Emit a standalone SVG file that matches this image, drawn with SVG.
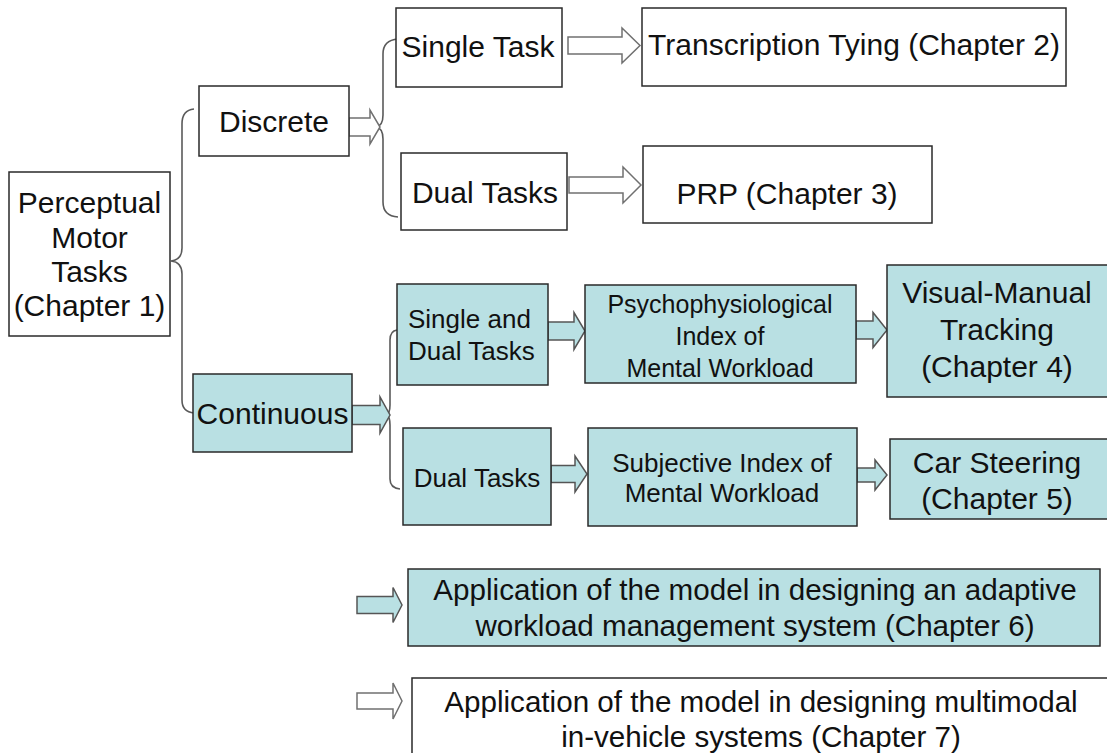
<svg xmlns="http://www.w3.org/2000/svg" width="1107" height="753" viewBox="0 0 1107 753">
<style>
.box{fill:#ffffff;stroke:#2a2a2a;stroke-width:1.5}
.cyan{fill:#b9e0e3;stroke:#2a2a2a;stroke-width:1.5}
.t{font-family:"Liberation Sans",Arial,sans-serif;fill:#111;text-anchor:middle}
.l{text-anchor:start}
.f29{font-size:30px}
.f26{font-size:26px}
.f25{font-size:25px}
.f28{font-size:29.6px}
.arw{fill:#ffffff;stroke:#707070;stroke-width:1.5;stroke-linejoin:miter}
.arc{fill:#b9e0e3;stroke:#555555;stroke-width:1.5;stroke-linejoin:miter}
.brace{fill:none;stroke:#5a5a5a;stroke-width:1.6}
</style>
<rect width="1107" height="753" fill="#ffffff"/>
<g id="connectors">
<path class="brace" d="M194,109 Q182,110 182,124 L182,248 Q182,260 171,261 Q182,262 182,274 L182,400 Q182,412 194,413"/>
<path class="brace" d="M398,39 Q383,40 383,54 L383,115 Q383,126 376,127 Q383,128 383,139 L383,202 Q383,216 398,217"/>
<path class="brace" d="M397,330 Q390,331 390,340 L390,405 Q390,414 386,415 Q390,416 390,425 L390,479 Q390,488 400,489"/>
<polygon class="arw" points="349,118 370,118 370,110 380,127 370,144 370,136 349,136"/>
<polygon class="arw" points="568,37 622,37 622,28 640,45.5 622,63 622,54 568,54"/>
<polygon class="arw" points="569,177 623,177 623,167 641,185 623,203 623,193 569,193"/>
<polygon class="arc" points="352,405.5 380,405.5 380,397 390,415 380,433 380,424.5 352,424.5"/>
<polygon class="arc" points="548,322 574,322 574,312.5 585,331 574,349.5 574,340 548,340"/>
<polygon class="arc" points="856,321 873,321 873,312.5 887,330 873,347.5 873,339 856,339"/>
<polygon class="arc" points="551,465.5 575,465.5 575,456 587,474 575,492 575,482.5 551,482.5"/>
<polygon class="arc" points="857,468 875,468 875,460 887,475 875,490 875,482 857,482"/>
<polygon class="arc" points="357,596.5 393,596.5 393,587.5 402,605 393,622.5 393,613.5 357,613.5"/>
<polygon class="arw" points="357,693 393,693 393,683 402,701 393,719 393,709 357,709"/>
</g>
<g id="perceptual">
<rect class="box" x="9" y="172" width="161" height="164"/>
<text class="t f29" x="89.5" y="213">Perceptual</text>
<text class="t f29" x="89.5" y="247.5">Motor</text>
<text class="t f29" x="89.5" y="282">Tasks</text>
<text class="t f29" x="89.5" y="316">(Chapter 1)</text>
</g>
<g id="discrete">
<rect class="box" x="199" y="86" width="150" height="70"/>
<text class="t f29" x="274" y="132">Discrete</text>
</g>
<g id="continuous">
<rect class="cyan" x="193" y="374" width="159" height="78"/>
<text class="t f29" x="272.5" y="424">Continuous</text>
</g>
<g id="single-task">
<rect class="box" x="396" y="8" width="166" height="79"/>
<text class="t f29" x="478" y="57">Single Task</text>
</g>
<g id="dual-tasks-discrete">
<rect class="box" x="401" y="153" width="166" height="77"/>
<text class="t f29" x="485" y="203">Dual Tasks</text>
</g>
<g id="transcription">
<rect class="box" x="642" y="8" width="424" height="78"/>
<text class="t f29" x="854" y="55">Transcription Tying (Chapter 2)</text>
</g>
<g id="prp">
<rect class="box" x="643" y="146" width="289" height="77"/>
<text class="t f29" x="787" y="204">PRP (Chapter 3)</text>
</g>
<g id="single-and-dual">
<rect class="cyan" x="397" y="284" width="151" height="101"/>
<text class="t l f26" x="408" y="328">Single and</text>
<text class="t l f26" x="408" y="360">Dual Tasks</text>
</g>
<g id="dual-tasks-continuous">
<rect class="cyan" x="403" y="428" width="148" height="97"/>
<text class="t f26" x="477" y="487">Dual Tasks</text>
</g>
<g id="psychophysiological">
<rect class="cyan" x="585" y="285" width="271" height="98"/>
<text class="t f25" x="720" y="313">Psychophysiological</text>
<text class="t f25" x="720" y="345">Index of</text>
<text class="t f25" x="720" y="377">Mental Workload</text>
</g>
<g id="subjective">
<rect class="cyan" x="588" y="428" width="269" height="98"/>
<text class="t f26" x="722" y="472">Subjective Index of</text>
<text class="t f26" x="722" y="502">Mental Workload</text>
</g>
<g id="visual-manual">
<rect class="cyan" x="887" y="265" width="222" height="132"/>
<text class="t f29" x="997" y="303">Visual-Manual</text>
<text class="t f29" x="997" y="340">Tracking</text>
<text class="t f29" x="997" y="377">(Chapter 4)</text>
</g>
<g id="car-steering">
<rect class="cyan" x="890" y="439" width="219" height="80"/>
<text class="t f29" x="997" y="473">Car Steering</text>
<text class="t f29" x="997" y="509">(Chapter 5)</text>
</g>
<g id="application-6">
<rect class="cyan" x="408" y="569" width="692" height="77"/>
<text class="t f28" x="755" y="600">Application of the model in designing an adaptive</text>
<text class="t f28" x="755" y="636">workload management system (Chapter 6)</text>
</g>
<g id="application-7">
<rect class="box" x="412" y="678" width="697" height="80"/>
<text class="t f28" x="761" y="712">Application of the model in designing multimodal</text>
<text class="t f28" x="761" y="747">in-vehicle systems (Chapter 7)</text>
</g>
</svg>
